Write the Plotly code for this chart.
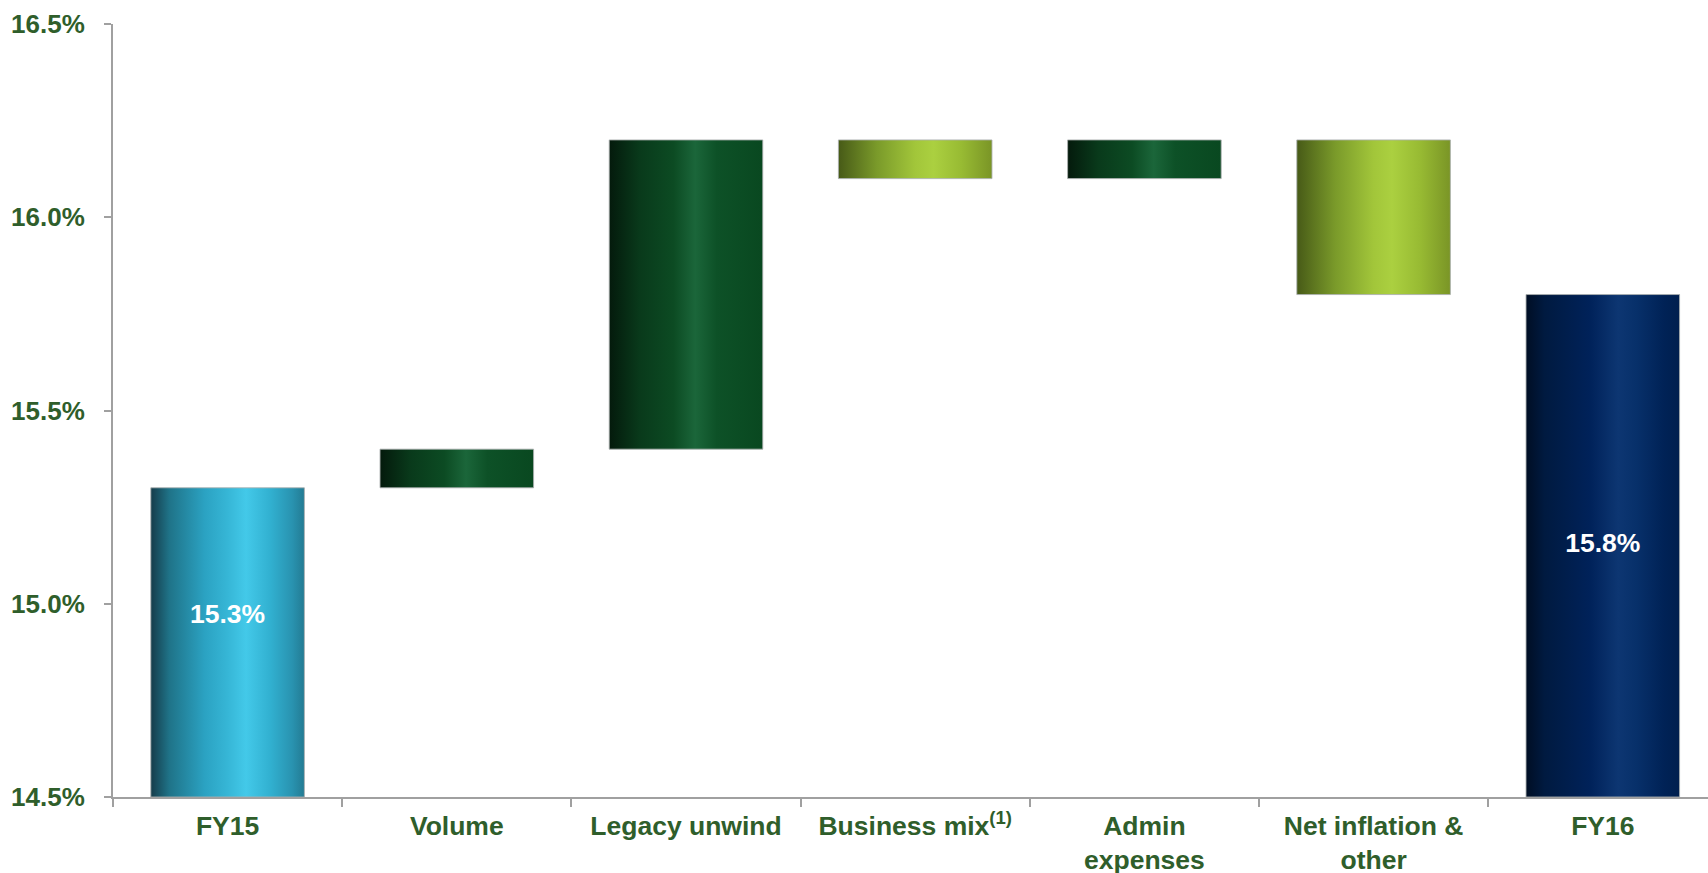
import plotly.graph_objects as go

# Operating margin bridge, FY15 -> FY16
categories = ["FY15", "Volume", "Legacy unwind", "Business mix<sup>(1)</sup>",
              "Admin<br>expenses", "Net inflation &<br>other", "FY16"]
start_value = 15.3
changes = [0.1, 0.8, -0.1, 0.1, -0.4]
end_value = 15.8
y_ticks = [14.5, 15.0, 15.5, 16.0, 16.5]

AXIS_MIN, AXIS_MAX = 14.5, 16.5
HALF_W = 0.335
LABEL_GREEN = "#2f5e2b"
FONT = "Liberation Sans, Arial, sans-serif"

# horizontal "cylinder" shading for each bar style
GRAD = {
    "start": [[0, "#153c4a"], [0.12, "#1f7388"], [0.35, "#2ba2c2"], [0.5, "#36b6d6"],
              [0.62, "#43c9e9"], [0.78, "#31b0d0"], [0.92, "#2993b0"], [1, "#237b93"]],
    "up":    [[0, "#041a0c"], [0.2, "#093a1b"], [0.42, "#0c4b23"], [0.56, "#1b663a"],
              [0.7, "#0d5127"], [1, "#094820"]],
    "down":  [[0, "#475a17"], [0.25, "#7a9a2a"], [0.5, "#a2c63a"], [0.62, "#abd040"],
              [0.8, "#98bb33"], [1, "#7a9526"]],
    "end":   [[0, "#000e24"], [0.12, "#001a40"], [0.42, "#00225a"], [0.6, "#0d3672"],
              [0.72, "#07306a"], [0.9, "#002256"], [1, "#001f4e"]],
}

# build waterfall segments
segments = [(0, AXIS_MIN, start_value, "start")]
level = start_value
for i, d in enumerate(changes, start=1):
    new = level + d
    segments.append((i, min(level, new), max(level, new), "up" if d > 0 else "down"))
    level = new
segments.append((len(categories) - 1, AXIS_MIN, end_value, "end"))

fig = go.Figure()
for x, lo, hi, kind in segments:
    fig.add_trace(go.Scatter(
        x=[x - HALF_W, x + HALF_W, x + HALF_W, x - HALF_W, x - HALF_W],
        y=[lo, lo, hi, hi, lo],
        mode="lines", fill="toself",
        line=dict(color="rgba(170,175,175,0.85)", width=1),
        fillgradient=dict(type="horizontal", colorscale=GRAD[kind]),
        hoverinfo="skip", showlegend=False,
    ))

# value labels on the two totals, placed part-way up each column
totals = [(0, start_value, 0.585), (len(categories) - 1, end_value, 0.5)]
fig.add_trace(go.Scatter(
    x=[t[0] for t in totals],
    y=[AXIS_MIN + t[2] * (t[1] - AXIS_MIN) for t in totals],
    text=[f"{t[1]:.1f}%" for t in totals],
    mode="text", textfont=dict(family=FONT, size=26.5, color="white", weight="bold"),
    hoverinfo="skip", showlegend=False,
))

n = len(categories)
fig.update_layout(
    width=1708, height=873,
    margin=dict(l=113, r=0, t=24, b=76),
    paper_bgcolor="white", plot_bgcolor="white",
    font=dict(family=FONT, size=26, color=LABEL_GREEN, weight="bold"),
    xaxis=dict(
        range=[-0.5, -0.5 + (1708 - 113) / 229.2],
        automargin=False,
        tickmode="array", tickvals=list(range(n)), ticktext=categories,
        ticks="", showgrid=False, zeroline=False,
        showline=True, linecolor="#a0a0a0", linewidth=2,
        ticklabelstandoff=4,
        tickfont=dict(family=FONT, size=26.5, color=LABEL_GREEN, weight="bold"),
        minor=dict(tickmode="array", tickvals=[i - 0.5 for i in range(n + 1)],
                   ticks="outside", ticklen=8, tickcolor="#a0a0a0", tickwidth=2,
                   showgrid=False),
    ),
    yaxis=dict(
        range=[AXIS_MIN, AXIS_MAX],
        automargin=False,
        tickmode="array", tickvals=y_ticks,
        ticktext=[f"{v:.1f}%" for v in y_ticks],
        ticks="outside", ticklen=7, tickcolor="#a0a0a0", tickwidth=2,
        showgrid=False, zeroline=False,
        showline=True, linecolor="#a0a0a0", linewidth=2,
        ticklabelstandoff=14,
        tickfont=dict(family=FONT, size=26, color=LABEL_GREEN, weight="bold"),
    ),
)

fig.write_html("out.html")
